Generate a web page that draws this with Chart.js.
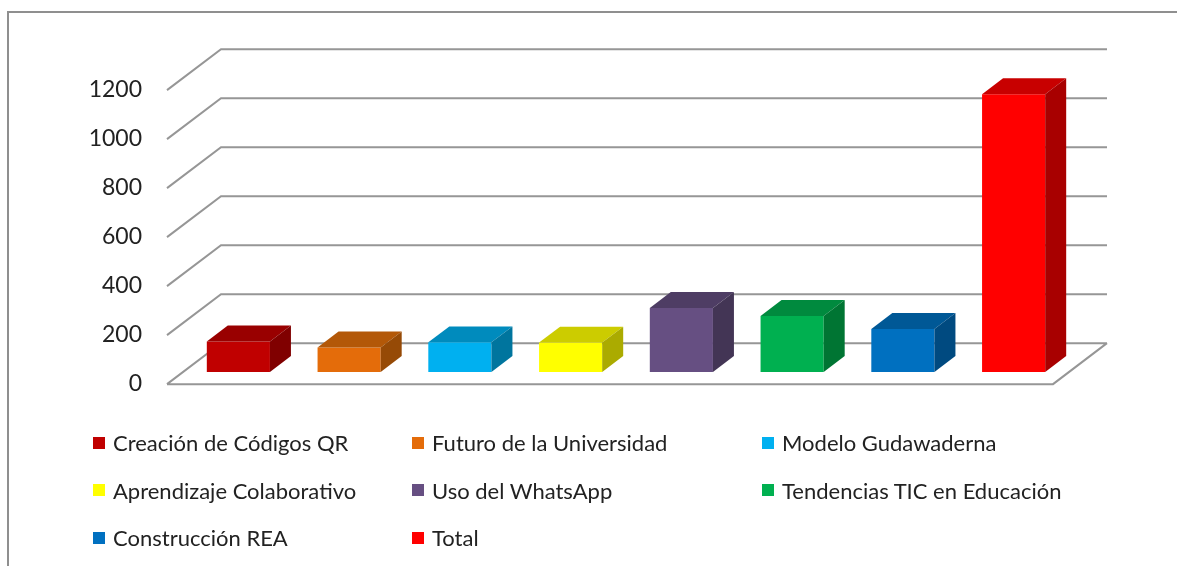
<!DOCTYPE html>
<html>
<head>
<meta charset="utf-8">
<script src="https://cdn.jsdelivr.net/npm/chart.js@4.4.1/dist/chart.umd.min.js"></script>
<style>
  html, body { margin: 0; padding: 0; background: #ffffff; }
  #wrap { position: relative; width: 1177px; height: 566px; overflow: hidden; }
  #frame { position: absolute; left: 7px; top: 11px; width: 1300px; height: 700px; border: 2px solid #8f8f8f; box-sizing: border-box; }
  #c { position: absolute; left: 0; top: 0; }
  #legend { position: absolute; left: 93px; top: 419px; display: grid;
            grid-template-columns: 319px 350px auto; grid-auto-rows: 47.5px; }
  .item { display: flex; align-items: center; font-family: Lato, "Open Sans", sans-serif; font-size: 22px; color: #222; white-space: nowrap; }
  .sw { width: 12px; height: 12px; margin-right: 8px; flex: none; }
</style>
</head>
<body>
<div id="wrap">
  <div id="frame"></div>
  <canvas id="c" width="1177" height="566"></canvas>
  <div id="legend"></div>
</div>
<script>
// ---- data ----
const categories = [
  "Creación de Códigos QR",
  "Futuro de la Universidad",
  "Modelo Gudawaderna",
  "Aprendizaje Colaborativo",
  "Uso del WhatsApp",
  "Tendencias TIC en Educación",
  "Construcción REA",
  "Total"
];
const values = [125, 100, 121, 120, 261, 229, 176, 1134];
const frontColors = ["#C00000", "#E46C0A", "#00B0F0", "#FFFF00", "#664F82", "#00B050", "#0070C0", "#FF0000"];
const topColors   = ["#990000", "#B35808", "#008BBD", "#CCCC00", "#4E3D64", "#008A3E", "#005896", "#C80000"];
const sideColors  = ["#800000", "#964A06", "#00759E", "#ABAB00", "#433555", "#007533", "#004A80", "#A80000"];
const yMin = 0, yMax = 1200, yStep = 200;

// ---- legend (HTML) ----
const legend = document.getElementById('legend');
categories.forEach((name, i) => {
  const it = document.createElement('div');
  it.className = 'item';
  const sw = document.createElement('span');
  sw.className = 'sw';
  sw.style.background = frontColors[i];
  const tx = document.createElement('span');
  tx.textContent = name;
  it.appendChild(sw); it.appendChild(tx);
  legend.appendChild(it);
});

// ---- 3D geometry (floor depth vector, bar placed in middle of depth) ----
const DX = 54, DY = -41;       // full floor depth
const F1 = 16 / 54, F2 = 37 / 54; // bar front / back fractions of depth

const threeD = {
  id: 'threeD',
  beforeDatasetsDraw(chart) {
    const ctx = chart.ctx;
    const { left, right } = chart.chartArea;
    const ys = chart.scales.y;
    const fx = -F1 * DX, fy = -F1 * DY;           // front edge offset
    const bx = (1 - F1) * DX, by = (1 - F1) * DY; // back wall offset
    ctx.save();
    ctx.strokeStyle = '#969696';
    ctx.lineWidth = 2;
    ctx.beginPath();
    ys.ticks.forEach(t => {
      const y = ys.getPixelForValue(t.value);
      ctx.moveTo(left + fx, y + fy);
      ctx.lineTo(left + bx, y + by);
      ctx.lineTo(right + bx, y + by);
    });
    const y0 = ys.getPixelForValue(0);
    ctx.moveTo(right + bx, y0 + by);
    ctx.lineTo(right + fx, y0 + fy);
    ctx.lineTo(left + fx, y0 + fy);
    ctx.stroke();
    ctx.restore();
  },
  afterDatasetsDraw(chart) {
    const ctx = chart.ctx;
    const meta = chart.getDatasetMeta(0);
    const ddx = (F2 - F1) * DX, ddy = (F2 - F1) * DY;
    ctx.save();
    meta.data.forEach((el, i) => {
      const p = el.getProps(['x', 'y', 'base', 'width'], true);
      const x0 = p.x - p.width / 2, x1 = p.x + p.width / 2;
      const yt = p.y, yb = p.base;
      // top face
      ctx.fillStyle = topColors[i];
      ctx.beginPath();
      ctx.moveTo(x0, yt); ctx.lineTo(x1, yt);
      ctx.lineTo(x1 + ddx, yt + ddy); ctx.lineTo(x0 + ddx, yt + ddy);
      ctx.closePath(); ctx.fill();
      // side face
      ctx.fillStyle = sideColors[i];
      ctx.beginPath();
      ctx.moveTo(x1, yt); ctx.lineTo(x1 + ddx, yt + ddy);
      ctx.lineTo(x1 + ddx, yb + ddy); ctx.lineTo(x1, yb);
      ctx.closePath(); ctx.fill();
    });
    ctx.restore();
  }
};

new Chart(document.getElementById('c'), {
  type: 'bar',
  data: {
    labels: categories,
    datasets: [{
      data: values,
      backgroundColor: frontColors,
      borderWidth: 0,
      barPercentage: 0.57,
      categoryPercentage: 1.0
    }]
  },
  options: {
    responsive: false,
    animation: false,
    events: [],
    layout: { padding: { left: 83, right: 108, top: 78, bottom: 194 } },
    plugins: { legend: { display: false }, tooltip: { enabled: false } },
    scales: {
      x: { display: false, offset: true },
      y: {
        min: yMin, max: yMax,
        ticks: {
          stepSize: yStep, padding: 41, labelOffset: 12,
          color: '#222', font: { family: 'Lato', size: 23 },
          callback: (v) => String(v)
        },
        grid: { display: false, drawTicks: false },
        border: { display: false },
        afterFit(s) { s.width = 100; }
      }
    }
  },
  plugins: [threeD]
});
</script>
</body>
</html>
